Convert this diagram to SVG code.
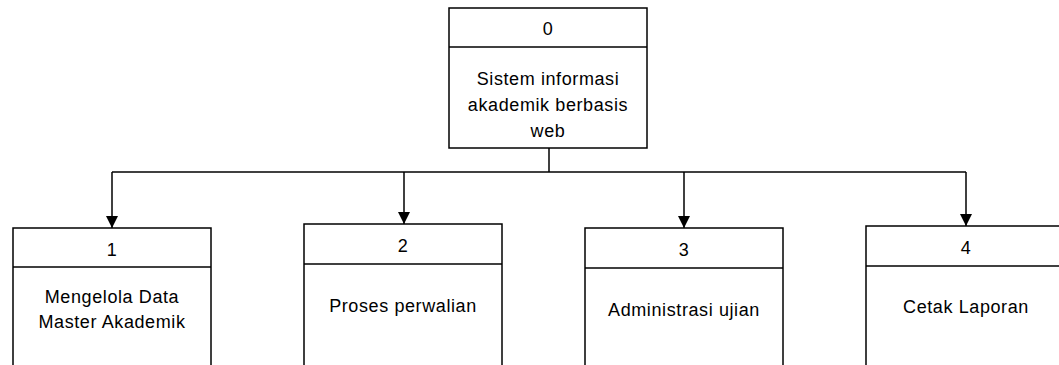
<svg xmlns="http://www.w3.org/2000/svg" width="1059" height="365" viewBox="0 0 1059 365">
  <style>
    .box { fill: #ffffff; stroke: #000000; stroke-width: 1.5; }
    .sep { stroke: #000000; stroke-width: 1.5; }
    .wire { fill: none; stroke: #000000; stroke-width: 1.5; }
    text { font-family: "Liberation Sans", Arial, sans-serif; font-size: 18px; fill: #000000; text-anchor: middle; letter-spacing: 0.6px; }
  </style>
  <defs>
    <marker id="arrow" viewBox="0 0 12 12" refX="12" refY="6" markerWidth="12" markerHeight="12" markerUnits="userSpaceOnUse" orient="auto">
      <path d="M0,0 L12,6 L0,12 z" fill="#000000"/>
    </marker>
  </defs>

  <!-- connectors: trunk from the root process, bus, and drops to each sub-process -->
  <g id="connectors">
    <line class="wire" x1="549" y1="148" x2="549" y2="172"/>
    <line class="wire" x1="112" y1="172" x2="966" y2="172"/>
    <line class="wire" x1="112" y1="172" x2="112" y2="228" marker-end="url(#arrow)"/>
    <line class="wire" x1="404" y1="172" x2="404" y2="224" marker-end="url(#arrow)"/>
    <line class="wire" x1="684" y1="172" x2="684" y2="228" marker-end="url(#arrow)"/>
    <line class="wire" x1="966" y1="172" x2="966" y2="226" marker-end="url(#arrow)"/>
  </g>

  <!-- process 0 -->
  <g id="node-0">
    <rect class="box" x="449" y="8" width="198" height="140"/>
    <line class="sep" x1="449" y1="47" x2="647" y2="47"/>
    <text x="548" y="35">0</text>
    <text x="548" y="85">Sistem informasi</text>
    <text x="548" y="111">akademik berbasis</text>
    <text x="548" y="137">web</text>
  </g>

  <!-- process 1 -->
  <g id="node-1">
    <rect class="box" x="13" y="228" width="198" height="150"/>
    <line class="sep" x1="13" y1="267" x2="211" y2="267"/>
    <text x="112" y="256">1</text>
    <text x="112" y="303">Mengelola Data</text>
    <text x="112" y="328">Master Akademik</text>
  </g>

  <!-- process 2 -->
  <g id="node-2">
    <rect class="box" x="304" y="224" width="198" height="150"/>
    <line class="sep" x1="304" y1="264" x2="502" y2="264"/>
    <text x="403" y="252">2</text>
    <text x="403" y="312">Proses perwalian</text>
  </g>

  <!-- process 3 -->
  <g id="node-3">
    <rect class="box" x="585" y="228" width="198" height="150"/>
    <line class="sep" x1="585" y1="268" x2="783" y2="268"/>
    <text x="684" y="256">3</text>
    <text x="684" y="316">Administrasi ujian</text>
  </g>

  <!-- process 4 -->
  <g id="node-4">
    <rect class="box" x="866" y="226" width="198" height="150"/>
    <line class="sep" x1="866" y1="266" x2="1064" y2="266"/>
    <text x="966" y="254">4</text>
    <text x="966" y="313">Cetak Laporan</text>
  </g>
</svg>
